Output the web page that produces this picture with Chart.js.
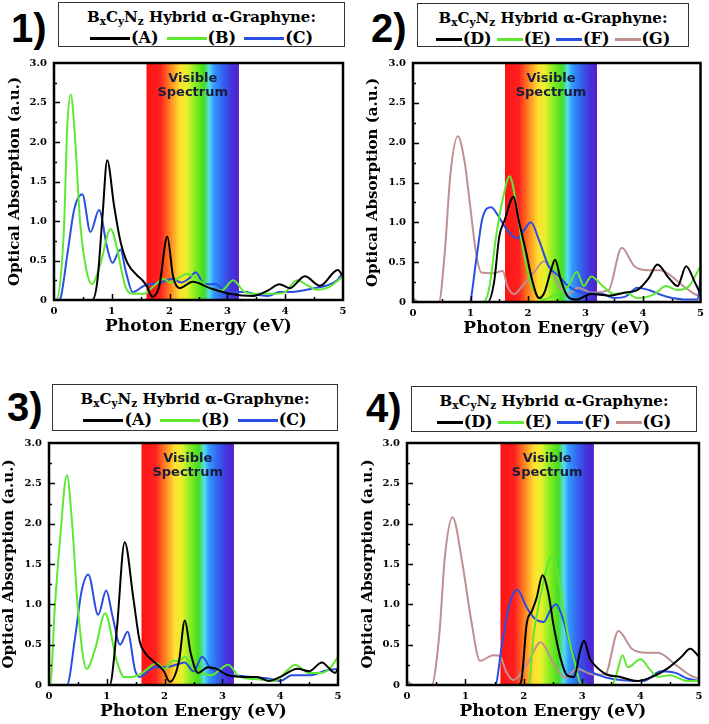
<!DOCTYPE html>
<html>
<head>
<meta charset="utf-8">
<script src="https://cdn.jsdelivr.net/npm/chart.js@4.4.1/dist/chart.umd.min.js"></script>
<style>
  body { margin: 0; background: #fff; width: 709px; height: 724px; position: relative; overflow: hidden; }
  canvas { position: absolute; }
  .num { position: absolute; font: bold 40px "Liberation Sans", Arial, sans-serif; line-height: 40px; color: #000; }
  .legend { position: absolute; border: 1.5px solid #333; box-sizing: border-box; background: #fff;
            font-family: "DejaVu Serif", serif; font-weight: bold; color: #000; }
  .legend .ttl { position: absolute; left: 0; right: 0; top: 4px; text-align: center; font-size: 15px; line-height: 20px; }
  .legend .ttl sub { font-size: 0.7em; vertical-align: -0.3em; line-height: 0; }
  .legend .row { position: absolute; left: 0; right: 0; top: 25px; display: flex; justify-content: center; align-items: center; font-size: 16px; line-height: 20px; }
  .legend .sw { display: inline-block; height: 3px; margin-right: 1px; }
  .legend .lb:last-child { margin-right: 0 !important; }
</style>
</head>
<body>
<script>
// Series colours
const colA = '#000000';
const colB = '#5de832';
const colC = '#2a4fe0';
const colG = '#c09090';

// Visible spectrum band (eV)
const visibleRange = [1.6, 3.2];

// ---- Panel 1: (A) (B) (C) ----
const p1EnergyA = [0, 0.66, 0.75, 0.84, 0.92, 1.04, 1.15, 1.27, 1.44, 1.53, 1.61, 1.7, 1.82, 1.96, 2.06, 2.17, 2.4, 2.7, 3.04, 3.44, 3.7, 3.9, 4.08, 4.34, 4.6, 4.91, 5.0];
const p1AbsA    = [0, 0, 0.24, 1.07, 1.77, 1.19, 0.74, 0.47, 0.31, 0.25, 0.17, 0.04, 0.17, 0.8, 0.3, 0.15, 0.23, 0.15, 0.08, 0.05, 0.12, 0.2, 0.15, 0.3, 0.18, 0.38, 0.3];
const p1EnergyB = [0, 0.03, 0.17, 0.23, 0.29, 0.36, 0.45, 0.56, 0.66, 0.8, 0.98, 1.1, 1.17, 1.24, 1.38, 1.56, 1.73, 1.9, 2.0, 2.2, 2.3, 2.45, 2.6, 2.7, 2.9, 3.1, 3.3, 3.5, 3.8, 4.0, 4.2, 4.4, 4.55, 4.75, 5.0];
const p1AbsB    = [0, 0, 0.87, 2.2, 2.6, 2.1, 1.0, 0.38, 0.2, 0.45, 0.9, 0.62, 0.37, 0.16, 0.08, 0.08, 0.18, 0.27, 0.22, 0.3, 0.33, 0.28, 0.2, 0.15, 0.12, 0.25, 0.1, 0.08, 0.08, 0.1, 0.25, 0.18, 0.13, 0.16, 0.3];
const p1EnergyC = [0, 0.08, 0.12, 0.23, 0.35, 0.49, 0.63, 0.78, 0.92, 1.01, 1.15, 1.24, 1.36, 1.56, 1.85, 2.05, 2.2, 2.35, 2.45, 2.6, 2.8, 3.0, 3.3, 3.5, 3.7, 3.9, 4.1, 4.3, 4.5, 4.7, 4.9, 5.0];
const p1AbsC    = [0, 0, 0.04, 0.57, 1.15, 1.34, 0.86, 1.14, 0.66, 0.47, 0.64, 0.37, 0.1, 0.18, 0.22, 0.27, 0.22, 0.28, 0.35, 0.2, 0.2, 0.1, 0.1, 0.07, 0.05, 0.1, 0.1, 0.12, 0.15, 0.18, 0.25, 0.35];

// ---- Panel 2: (D) (E) (F) (G) ----
const p2EnergyD = [0, 1.3, 1.41, 1.5, 1.59, 1.75, 1.84, 1.96, 2.07, 2.19, 2.28, 2.4, 2.47, 2.57, 2.68, 2.83, 3.1, 3.4, 3.7, 3.9, 4.1, 4.25, 4.45, 4.6, 4.75, 4.9, 5.0];
const p2AbsD    = [0, 0, 0.25, 0.82, 1.02, 1.32, 1.02, 0.65, 0.28, 0.05, 0.11, 0.4, 0.53, 0.28, 0.08, 0.03, 0.1, 0.08, 0.12, 0.15, 0.3, 0.47, 0.3, 0.2, 0.45, 0.25, 0.1];
const p2EnergyE = [0, 1.22, 1.33, 1.44, 1.56, 1.68, 1.79, 1.9, 2.02, 2.13, 2.25, 2.5, 2.7, 2.85, 2.97, 3.1, 3.3, 3.5, 3.7, 3.9, 4.2, 4.4, 4.6, 4.8, 5.0];
const p2AbsE    = [0, 0, 0.19, 0.8, 1.29, 1.58, 1.25, 0.72, 0.31, 0.11, 0.03, 0.1, 0.2, 0.38, 0.2, 0.32, 0.2, 0.1, 0.12, 0.05, 0.1, 0.2, 0.15, 0.2, 0.45];
const p2EnergyF = [0, 0.98, 1.1, 1.21, 1.36, 1.5, 1.64, 1.82, 1.93, 2.05, 2.19, 2.36, 2.53, 2.7, 2.93, 3.3, 3.5, 3.7, 3.9, 4.1, 4.4, 4.8, 4.95, 5.0];
const p2AbsF    = [0, 0, 0.53, 1.06, 1.19, 1.06, 0.9, 0.8, 0.9, 1.0, 0.78, 0.45, 0.33, 0.2, 0.12, 0.1, 0.05, 0.07, 0.18, 0.15, 0.07, 0.03, 0.03, 0.3];
const p2EnergyG = [0, 0.1, 0.45, 0.55, 0.65, 0.78, 0.9, 0.98, 1.1, 1.19, 1.39, 1.56, 1.64, 1.76, 1.9, 2.1, 2.28, 2.42, 2.56, 2.7, 2.87, 3.1, 3.4, 3.63, 3.85, 4.1, 4.3, 4.7, 4.9, 5.0];
const p2AbsG    = [0.05, 0, 0, 0.6, 1.6, 2.08, 1.75, 1.29, 0.6, 0.37, 0.36, 0.39, 0.2, 0.1, 0.2, 0.37, 0.51, 0.37, 0.18, 0.1, 0.18, 0.12, 0.15, 0.68, 0.45, 0.4, 0.4, 0.2, 0.1, 0.08];

// ---- Panel 3: (A) (B) (C) ----
const p3EnergyA = [0, 1.05, 1.17, 1.31, 1.46, 1.57, 1.66, 1.83, 1.98, 2.09, 2.25, 2.35, 2.45, 2.58, 2.75, 2.9, 3.1, 3.4, 3.6, 3.8, 4.0, 4.3, 4.5, 4.72, 4.95, 5.0];
const p3AbsA    = [0, 0, 0.66, 1.77, 1.07, 0.54, 0.4, 0.28, 0.18, 0.04, 0.3, 0.8, 0.4, 0.15, 0.22, 0.2, 0.12, 0.1, 0.1, 0.05, 0.1, 0.2, 0.17, 0.28, 0.15, 0.2];
const p3EnergyB = [0, 0.02, 0.1, 0.19, 0.31, 0.4, 0.5, 0.65, 0.8, 0.97, 1.17, 1.3, 1.44, 1.59, 1.87, 2.0, 2.15, 2.25, 2.35, 2.5, 2.65, 2.8, 3.1, 3.3, 3.6, 3.9, 4.15, 4.25, 4.5, 4.7, 4.85, 5.0];
const p3AbsB    = [0, 0, 0.95, 1.8, 2.6, 2.0, 0.95, 0.2, 0.45, 0.89, 0.3, 0.1, 0.1, 0.14, 0.27, 0.2, 0.3, 0.3, 0.35, 0.2, 0.15, 0.12, 0.25, 0.1, 0.07, 0.05, 0.2, 0.25, 0.15, 0.15, 0.2, 0.35];
const p3EnergyC = [0, 0.31, 0.45, 0.56, 0.68, 0.85, 0.99, 1.1, 1.23, 1.36, 1.49, 1.57, 1.83, 2.0, 2.2, 2.35, 2.5, 2.65, 2.8, 3.0, 3.2, 3.5, 3.8, 4.0, 4.2, 4.5, 4.8, 5.0];
const p3AbsC    = [0, 0, 0.58, 1.15, 1.37, 0.87, 1.17, 0.85, 0.5, 0.66, 0.18, 0.1, 0.22, 0.22, 0.25, 0.28, 0.17, 0.35, 0.2, 0.15, 0.12, 0.1, 0.08, 0.05, 0.12, 0.12, 0.18, 0.2];

// ---- Panel 4: (D) (E) (F) (G) ----
const p4EnergyD = [0, 1.91, 1.96, 2.05, 2.14, 2.22, 2.32, 2.42, 2.51, 2.63, 2.74, 2.86, 2.97, 3.03, 3.13, 3.21, 3.42, 3.65, 3.95, 4.2, 4.45, 4.7, 4.85, 5.0];
const p4AbsD    = [0, 0, 0.06, 0.76, 0.92, 1.08, 1.36, 1.14, 0.74, 0.33, 0.12, 0.1, 0.44, 0.55, 0.33, 0.25, 0.13, 0.1, 0.05, 0.1, 0.2, 0.35, 0.45, 0.35];
const p4EnergyE = [0, 2.08, 2.17, 2.28, 2.48, 2.63, 2.74, 2.89, 2.97, 3.1, 3.51, 3.59, 3.69, 3.78, 4.0, 4.15, 4.3, 4.5, 4.8, 5.0];
const p4AbsE    = [0, 0, 0.63, 1.08, 1.6, 1.17, 0.68, 0.23, 0.02, 0, 0, 0.14, 0.37, 0.22, 0.32, 0.2, 0.1, 0.12, 0.05, 0.05];
const p4EnergyF = [0, 1.51, 1.62, 1.74, 1.89, 2.05, 2.19, 2.34, 2.45, 2.55, 2.68, 2.79, 2.93, 3.19, 3.42, 3.7, 3.9, 4.05, 4.35, 4.6, 4.8, 5.0];
const p4AbsF    = [0, 0, 0.47, 0.96, 1.18, 0.96, 0.82, 0.78, 0.92, 1.0, 0.8, 0.51, 0.27, 0.15, 0.09, 0.06, 0.05, 0.05, 0.17, 0.15, 0.08, 0.05];
const p4EnergyG = [0, 0.1, 0.42, 0.55, 0.65, 0.78, 0.95, 1.1, 1.25, 1.48, 1.59, 1.7, 1.82, 2.05, 2.29, 2.51, 2.71, 2.91, 3.19, 3.39, 3.62, 3.85, 4.1, 4.3, 4.6, 4.85, 5.0];
const p4AbsG    = [0.05, 0, 0, 0.6, 1.6, 2.08, 1.5, 0.8, 0.3, 0.37, 0.36, 0.16, 0.06, 0.25, 0.53, 0.27, 0.09, 0.2, 0.13, 0.13, 0.67, 0.45, 0.4, 0.4, 0.25, 0.12, 0.08];

// Axis ticks
const xTicks = [0, 1, 2, 3, 4, 5];
const yTicks = [0, 0.5, 1.0, 1.5, 2.0, 2.5, 3.0];

const rainbowStops = [
  [0, '#ff1414'], [0.15, '#ff2020'], [0.25, '#ff7d20'], [0.36, '#ffe030'], [0.44, '#e6f02c'],
  [0.52, '#8aee22'], [0.62, '#44dd22'], [0.68, '#55dcec'], [0.73, '#3399ff'], [0.82, '#3366ee'],
  [0.92, '#4433dd'], [1, '#5520cc']
];

const panels = [
  { num: '1)', numPos: [11, 8], box: [58, 2, 287, 45], lineW: 40, gap: 8,
    canvas: [0, 50, 354, 300], yAxisW: 54, padRight: 11, padTop: 7, xAxisH: 50, xTitlePad: 13, yTitlePad: 6,
    series: [['(A)', p1EnergyA, p1AbsA, colA], ['(B)', p1EnergyB, p1AbsB, colB], ['(C)', p1EnergyC, p1AbsC, colC]] },
  { num: '2)', numPos: [371, 8], box: [417, 3, 272, 44], lineW: 26, gap: 5,
    canvas: [354, 50, 355, 302], yAxisW: 59, padRight: 6, padTop: 7, xAxisH: 50, xTitlePad: 13, yTitlePad: 10,
    series: [['(D)', p2EnergyD, p2AbsD, colA], ['(E)', p2EnergyE, p2AbsE, colB], ['(F)', p2EnergyF, p2AbsF, colC], ['(G)', p2EnergyG, p2AbsG, colG]] },
  { num: '3)', numPos: [7, 387], box: [52, 384, 286, 47], lineW: 40, gap: 8,
    canvas: [0, 430, 354, 294], yAxisW: 49, padRight: 16, padTop: 7, xAxisH: 39, xTitlePad: 2, yTitlePad: 0,
    series: [['(A)', p3EnergyA, p3AbsA, colA], ['(B)', p3EnergyB, p3AbsB, colB], ['(C)', p3EnergyC, p3AbsC, colC]] },
  { num: '4)', numPos: [366, 388], box: [411, 386, 286, 46], lineW: 26, gap: 5,
    canvas: [354, 430, 355, 294], yAxisW: 53, padRight: 10, padTop: 11, xAxisH: 39, xTitlePad: 2, yTitlePad: 5,
    series: [['(D)', p4EnergyD, p4AbsD, colA], ['(E)', p4EnergyE, p4AbsE, colB], ['(F)', p4EnergyF, p4AbsF, colC], ['(G)', p4EnergyG, p4AbsG, colG]] }
];

// Rainbow band, frame and inward ticks
const spectrumPlugin = {
  id: 'spectrum',
  beforeDatasetsDraw(chart) {
    const { ctx, chartArea: a, scales: { x } } = chart;
    const x0 = x.getPixelForValue(visibleRange[0]);
    const x1 = x.getPixelForValue(visibleRange[1]);
    const g = ctx.createLinearGradient(x0, 0, x1, 0);
    rainbowStops.forEach(([p, c]) => g.addColorStop(p, c));
    ctx.save();
    ctx.fillStyle = g;
    ctx.fillRect(x0, a.top, x1 - x0, a.bottom - a.top);
    ctx.fillStyle = '#1b1b3d';
    ctx.font = 'bold 13px "DejaVu Sans"';
    ctx.textAlign = 'center';
    ctx.textBaseline = 'middle';
    ctx.fillText('Visible', (x0 + x1) / 2, a.top + 16);
    ctx.fillText('Spectrum', (x0 + x1) / 2, a.top + 30);
    ctx.restore();
  },
  afterDraw(chart) {
    const { ctx, chartArea: a, scales: { x, y } } = chart;
    ctx.save();
    ctx.strokeStyle = '#000';
    ctx.lineWidth = 1.5;
    ctx.beginPath();
    for (let v = 0.25; v < 3; v += 0.25) {
      const py = Math.round(y.getPixelForValue(v)) + 0.5;
      const len = (Math.abs(v * 2 - Math.round(v * 2)) < 1e-6) ? 6 : 3;
      ctx.moveTo(a.left, py); ctx.lineTo(a.left + len, py);
    }
    for (let v = 0.5; v < 5; v += 0.5) {
      const px = Math.round(x.getPixelForValue(v)) + 0.5;
      const len = (Math.abs(v - Math.round(v)) < 1e-6) ? 6 : 3;
      ctx.moveTo(px, a.bottom); ctx.lineTo(px, a.bottom - len);
    }
    ctx.stroke();
    ctx.lineWidth = 2.5;
    ctx.strokeRect(a.left, a.top, a.right - a.left, a.bottom - a.top);
    ctx.restore();
  }
};

const tickFont = { family: 'DejaVu Serif', weight: 'bold', size: 10 };

panels.forEach(p => {
  // panel number
  const num = document.createElement('div');
  num.className = 'num';
  num.textContent = p.num;
  num.style.left = p.numPos[0] + 'px';
  num.style.top = p.numPos[1] + 'px';
  document.body.appendChild(num);

  // legend box
  const lg = document.createElement('div');
  lg.className = 'legend';
  lg.style.left = p.box[0] + 'px'; lg.style.top = p.box[1] + 'px';
  lg.style.width = p.box[2] + 'px'; lg.style.height = p.box[3] + 'px';
  let row = '';
  p.series.forEach(s => {
    row += '<span class="sw" style="width:' + p.lineW + 'px;background:' + s[3] + '"></span>' +
           '<span class="lb" style="margin-right:' + p.gap + 'px">' + s[0] + '</span>';
  });
  lg.innerHTML = '<div class="ttl">B<sub>x</sub>C<sub>y</sub>N<sub>z</sub> Hybrid α-Graphyne:</div><div class="row">' + row + '</div>';
  document.body.appendChild(lg);

  // chart canvas
  const cv = document.createElement('canvas');
  cv.width = p.canvas[2]; cv.height = p.canvas[3];
  cv.style.left = p.canvas[0] + 'px'; cv.style.top = p.canvas[1] + 'px';
  cv.style.width = p.canvas[2] + 'px'; cv.style.height = p.canvas[3] + 'px';
  document.body.appendChild(cv);

  new Chart(cv.getContext('2d'), {
    type: 'line',
    data: {
      datasets: p.series.map(s => ({
        label: s[0],
        data: s[1].map((e, i) => ({ x: e, y: s[2][i] })),
        borderColor: s[3],
        backgroundColor: s[3],
        borderWidth: 2,
        fill: false,
        cubicInterpolationMode: 'monotone',
        pointRadius: 0
      }))
    },
    options: {
      responsive: false,
      animation: false,
      devicePixelRatio: 1,
      layout: { padding: { left: 0, right: p.padRight, top: p.padTop, bottom: 0 } },
      plugins: { legend: { display: false }, tooltip: { enabled: false } },
      scales: {
        x: {
          type: 'linear', min: 0, max: 5,
          afterBuildTicks: s => { s.ticks = xTicks.map(v => ({ value: v })); },
          ticks: { font: tickFont, color: '#000', padding: 5, maxRotation: 0, callback: v => String(v) },
          grid: { display: false, drawTicks: false },
          border: { display: false },
          title: { display: true, text: 'Photon Energy (eV)', color: '#000',
                   font: { family: 'DejaVu Serif', weight: 'bold', size: 17 },
                   padding: { top: 0, bottom: p.xTitlePad } },
          afterFit: s => { s.height = p.xAxisH; }
        },
        y: {
          min: 0, max: 3,
          afterBuildTicks: s => { s.ticks = yTicks.map(v => ({ value: v })); },
          ticks: { font: tickFont, color: '#000', padding: 7, callback: v => v === 0 ? '0' : v.toFixed(1) },
          grid: { display: false, drawTicks: false },
          border: { display: false },
          title: { display: true, text: 'Optical Absorption (a.u.)', color: '#000',
                   font: { family: 'DejaVu Serif', weight: 'bold', size: 15 },
                   padding: { top: p.yTitlePad, bottom: 0 } },
          afterFit: s => { s.width = p.yAxisW; }
        }
      }
    },
    plugins: [spectrumPlugin]
  });
});
</script>
</body>
</html>
